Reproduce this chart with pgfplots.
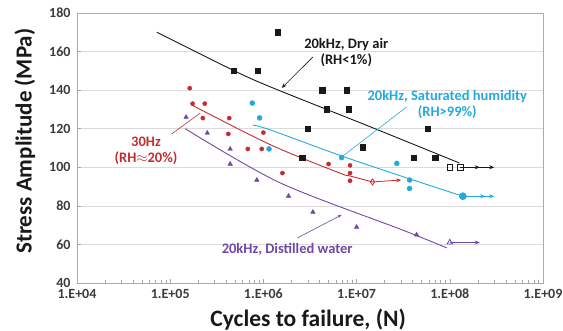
\documentclass[border=0pt]{standalone}
\usepackage{pgfplots}
\pgfplotsset{compat=1.18}
\usepackage{fontspec}
\setmainfont{Carlito}
\usetikzlibrary{arrows.meta}
\definecolor{cblack}{RGB}{25,25,25}
\definecolor{cred}{RGB}{195,45,50}
\definecolor{ccyan}{RGB}{35,170,220}
\definecolor{cpurple}{RGB}{112,72,165}
\definecolor{tickc}{RGB}{60,60,60}
\begin{document}
\begin{tikzpicture}
\begin{axis}[
  at={(0,0)}, anchor=south west,
  scale only axis, width=466pt, height=270pt,
  xmode=log, xmin=1e4, xmax=1e9, ymin=40, ymax=180,
  xtick={1e4,1e5,1e6,1e7,1e8,1e9},
  xticklabels={1.E+04,1.E+05,1.E+06,1.E+07,1.E+08,1.E+09},
  ytick={40,60,80,100,120,140,160,180},
  tick pos=left,
  /pgf/number format/assume math mode=true,
  ticklabel style={font=\fontsize{14}{16}\selectfont\bfseries, text=tickc},
  xticklabel style={yshift=-2.5pt},
  yticklabel style={xshift=-3pt},
  ymajorgrids, grid style={gray!28, line width=0.6pt},
  axis line style={gray!65, line width=0.8pt},
  major tick length=4pt, minor tick length=2.5pt,
  tick style={gray!70, line width=0.6pt},
  xlabel={Cycles to failure, (N)},
  ylabel={Stress Amplitude (MPa)},
  xlabel style={at={(axis description cs:0.496,-0.135)}, anchor=center, font=\fontsize{23.5}{25}\selectfont\bfseries, text=cblack},
  ylabel style={at={(axis description cs:-0.112,0.525)}, anchor=center, font=\fontsize{23}{25}\selectfont\bfseries, text=cblack},
  clip=false,
]
% ---------- trend lines ----------
\addplot[cblack, line width=0.9pt, smooth] coordinates {(7.2e4,170) (4.7e5,150.4) (1.2e6,141.6) (1.4e7,121) (1.27e8,102.2)};
\addplot[ccyan, line width=0.9pt, smooth] coordinates {(7.7e5,121.9) (1.2e6,119.3) (6.6e6,106.2) (3.5e7,94.4) (1.38e8,85)};
\addplot[cred, line width=0.9pt, smooth] coordinates {(1.7e5,132.3) (1.2e6,111.6) (6.6e6,97) (8.5e6,95.5) (1.48e7,92.4)};
\addplot[cpurple, line width=0.9pt, smooth] coordinates {(1.45e5,120) (1.5e6,92) (3.1e7,67.5) (9.3e7,58.2)};
% ---------- run-out arrows ----------
\addplot[cblack, line width=0.8pt, -{Stealth[length=5pt,width=4pt]}] coordinates {(1.3e8,100) (2.1e8,100)};
\addplot[cblack, line width=0.8pt, -{Stealth[length=5pt,width=4pt]}] coordinates {(2.0e8,100) (3.0e8,100)};
\addplot[ccyan, line width=0.8pt, -{Stealth[length=5pt,width=4pt]}] coordinates {(1.38e8,85) (2.4e8,85)};
\addplot[ccyan, line width=0.8pt, -{Stealth[length=5pt,width=4pt]}] coordinates {(2.3e8,85) (3.0e8,85)};
\addplot[cpurple, line width=0.8pt, -{Stealth[length=5pt,width=4pt]}] coordinates {(1.0e8,61) (2.1e8,61)};
\addplot[cred, line width=0.8pt, -{Stealth[length=5pt,width=4pt]}] coordinates {(1.48e7,92.4) (3.0e7,93.4)};
% ---------- data: 20kHz dry air ----------
\addplot[only marks, mark=square*, mark size=2.8pt, cblack] coordinates {
 (4.8e5,150) (8.7e5,150) (1.43e6,170) (4.3e6,140) (7.8e6,140) (4.8e6,130) (8.2e6,130)
 (3.0e6,120) (2.6e6,105) (1.16e7,110.5) (5.8e7,120) (4.1e7,105) (7.0e7,105)};
\addplot[only marks, mark=square, mark size=2.8pt, line width=0.9pt, cblack, fill=white] coordinates {(1.0e8,100) (1.3e8,100)};
% ---------- data: 30Hz ----------
\addplot[only marks, mark=*, mark size=2.1pt, cred] coordinates {
 (1.62e5,141) (1.74e5,133) (2.35e5,133) (2.24e5,125.5) (4.3e5,125.5) (4.2e5,117.3)
 (6.8e5,109.5) (9.6e5,109.5) (1.0e6,118) (1.6e6,97) (5.0e6,101.7) (8.5e6,101)
 (8.5e6,97) (8.5e6,93)};
\addplot[only marks, mark=diamond, mark size=3pt, line width=0.8pt, cred, fill=white] coordinates {(1.48e7,92.4)};
% ---------- data: 20kHz saturated humidity ----------
\addplot[only marks, mark=*, mark size=2.5pt, ccyan] coordinates {
 (7.6e5,133.3) (9.1e5,125.6) (1.15e6,109.5) (6.9e6,105) (2.7e7,102) (3.7e7,93.4) (3.7e7,89)};
\addplot[only marks, mark=*, mark size=3.6pt, ccyan] coordinates {(1.38e8,85)};
% ---------- data: 20kHz distilled water ----------
\addplot[only marks, mark=triangle*, mark size=2.6pt, cpurple] coordinates {
 (1.48e5,126) (2.5e5,117.8) (4.4e5,109.5) (4.4e5,101.7) (8.5e5,93.4) (1.86e6,85.1)
 (3.4e6,76.8) (1.0e7,69) (4.4e7,65)};
\addplot[only marks, mark=triangle, mark size=3.2pt, line width=0.8pt, cpurple, fill=white] coordinates {(1.0e8,61)};
% ---------- annotations ----------
\draw[cblack, line width=0.6pt, -{Stealth[length=5pt,width=3.5pt]}] (axis cs:3.4e6,157.2) -- (axis cs:1.57e6,141.1);
\draw[ccyan, line width=0.6pt] (axis cs:3.44e7,131.3) -- (axis cs:6.9e6,105.3);
\draw[cred, line width=0.6pt] (axis cs:1.03e5,117.2) -- (axis cs:2.1e5,128.1);
\draw[cpurple, line width=0.6pt, -{Stealth[length=4pt,width=3pt]}] (axis cs:2.3e6,63.3) -- (axis cs:6.9e6,75.3);
\node[font=\fontsize{14.5}{16}\selectfont\bfseries, text=cblack, align=center] at (axis cs:7.75e6,159.3) {20kHz, Dry air\\(RH<1\%)};
\node[font=\fontsize{14.5}{16}\selectfont\bfseries, text=ccyan, align=center] at (axis cs:9.4e7,132.3) {20kHz, Saturated humidity\\(RH>99\%)};
\node[font=\fontsize{14.5}{16}\selectfont\bfseries, text=cred, align=center] at (axis cs:5.5e4,108.3) {30Hz\\(RH$\approx$20\%)};
\node[font=\fontsize{14.5}{16}\selectfont\bfseries, text=cpurple] at (axis cs:1.8e6,57.6) {20kHz, Distilled water};
\end{axis}
\pgfresetboundingbox
\path[use as bounding box] (-77pt,-48pt) rectangle (486pt,283pt);
\end{tikzpicture}
\end{document}
